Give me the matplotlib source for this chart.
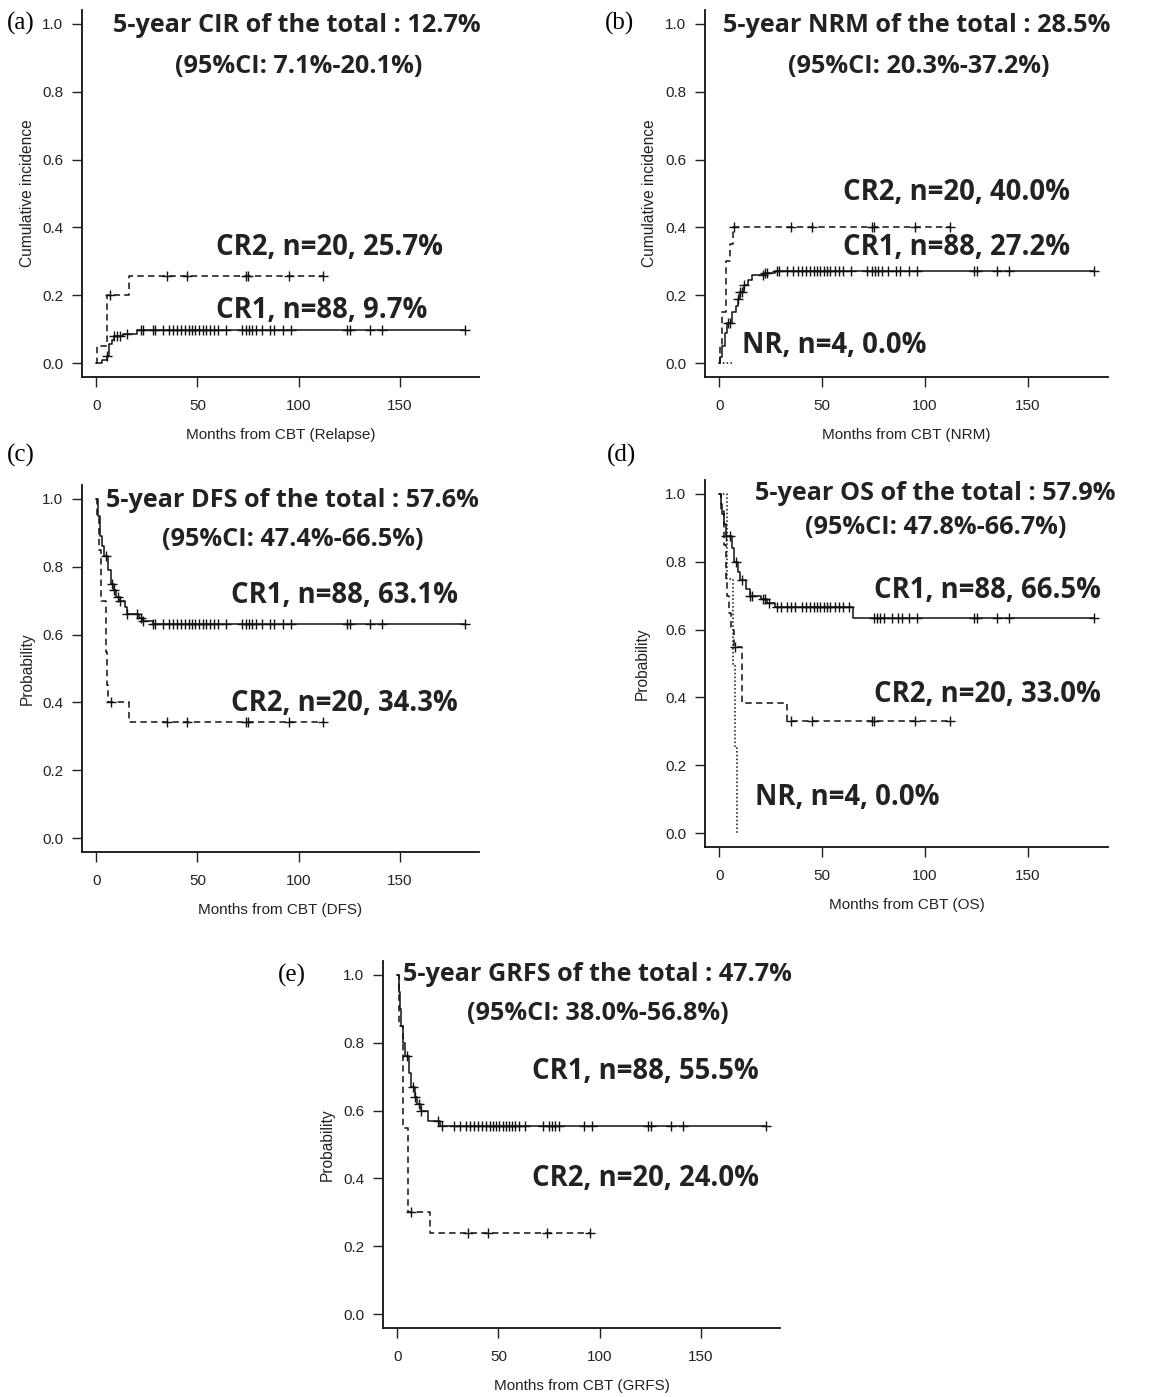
"""
cbt_outcomes.py - five KM / cumulative incidence panels (CIR, NRM, DFS, OS, GRFS)
"""
import numpy as np
import matplotlib
matplotlib.use("Agg")
import matplotlib.pyplot as plt

plt.rcParams['font.family'] = ['Liberation Sans', 'DejaVu Sans']

W, H = 1152, 1397

# ---- data ----
# long follow-up censor times shared by the CR1 group
cr1_late = [22, 23, 28, 29, 33, 36, 38, 40, 42, 44, 46, 47.5, 49, 51, 52.5,
            54, 56, 58, 60, 64, 72, 74, 75.5, 77, 79, 82, 86, 88, 92, 96,
            124, 125.5, 135, 141, 182]
cr2_late = [35, 45, 74, 75, 95, 112]

# (a) CIR
a_cr1_t = [0, 3, 5.5, 6.5, 8, 9, 13, 20]
a_cr1_s = [0, 0.011, 0.023, 0.057, 0.068, 0.08, 0.086, 0.097]
a_cr1_c = [5.5, 9, 10.5, 12, 15] + cr1_late
a_cr2_t = [0, 0.5, 5.4, 16.4]
a_cr2_s = [0, 0.05, 0.2, 0.257]
a_cr2_c = [7] + cr2_late

# (b) NRM
b_cr1_t = [0, 0.5, 1.5, 2.5, 3.5, 6, 8, 9, 10, 12, 14, 16, 22, 27]
b_cr1_s = [0, 0.02, 0.05, 0.09, 0.12, 0.15, 0.17, 0.19, 0.21, 0.23, 0.245, 0.26, 0.265, 0.272]
b_cr1_c = [4, 5, 9, 10, 11, 12, 21] + cr1_late
b_cr2_t = [0, 0.5, 1.5, 3, 5, 6.5]
b_cr2_s = [0, 0.05, 0.15, 0.3, 0.35, 0.4]
b_cr2_c = [7] + cr2_late
b_nr_t = [0, 7]
b_nr_s = [0, 0]

# (c) DFS
c_cr1_t = [0, 1, 2, 3, 4, 6, 7.5, 9, 10, 12, 14, 15, 21, 23, 28]
c_cr1_s = [1, 0.95, 0.89, 0.86, 0.83, 0.79, 0.75, 0.73, 0.71, 0.70, 0.68, 0.66, 0.65, 0.64, 0.631]
c_cr1_c = [5, 8, 9, 11, 12, 15, 20] + cr1_late
c_cr2_t = [0, 0.5, 1.5, 2.5, 5, 5.5, 6, 16]
c_cr2_s = [1, 0.95, 0.85, 0.70, 0.55, 0.45, 0.40, 0.343]
c_cr2_c = [7.5] + cr2_late

# (d) OS
d_cr1_t = [0, 1, 1.5, 2, 3, 6, 7, 9, 10, 13, 15, 20, 23, 27, 65]
d_cr1_s = [1, 0.97, 0.94, 0.91, 0.875, 0.84, 0.80, 0.77, 0.745, 0.72, 0.70, 0.69, 0.677, 0.665, 0.634]
d_cr1_c = [3, 5, 8, 11, 15, 16, 21, 22, 24, 28, 30, 33, 35, 37, 40, 42, 44, 46, 47.5,
           49, 51, 52.5, 54, 56, 58, 60, 63, 75, 76.5, 78, 80, 84, 87,
           89, 92, 96, 124, 125.5, 135, 141, 182]
d_cr2_t = [0, 1, 2, 3, 3.5, 4.5, 5.5, 7, 11, 33]
d_cr2_s = [1, 0.95, 0.85, 0.75, 0.70, 0.65, 0.60, 0.55, 0.385, 0.33]
d_cr2_c = [7.6] + cr2_late
d_nr_t = [0, 3.7, 6.5, 7.6, 8.4]
d_nr_s = [1, 0.75, 0.5, 0.25, 0.0]

# (e) GRFS
e_cr1_t = [0, 1, 1.5, 2, 3, 4, 6, 7, 9, 10, 12, 15, 21]
e_cr1_s = [1, 0.95, 0.9, 0.85, 0.8, 0.76, 0.71, 0.67, 0.64, 0.62, 0.60, 0.57, 0.555]
e_cr1_c = [5, 8, 9, 11, 12, 20, 22, 28, 31, 34, 36, 38, 40, 42, 44, 46, 47.5, 49,
           50.5, 52, 53.5, 55, 56.5, 58, 60, 63, 72, 75, 76.5, 78, 80, 92, 96,
           124, 125.5, 135, 141, 182]
e_cr2_t = [0, 1, 3, 5.3, 16]
e_cr2_s = [1, 0.85, 0.55, 0.30, 0.24]
e_cr2_c = [6.6, 35, 45, 74, 95]

titles = ["5-year CIR of the total : 12.7%", "5-year NRM of the total : 28.5%",
          "5-year DFS of the total : 57.6%", "5-year OS of the total : 57.9%",
          "5-year GRFS of the total : 47.7%"]
cis = ["(95%CI: 7.1%-20.1%)", "(95%CI: 20.3%-37.2%)", "(95%CI: 47.4%-66.5%)",
       "(95%CI: 47.8%-66.7%)", "(95%CI: 38.0%-56.8%)"]
xlabels = ["Months from CBT (Relapse)", "Months from CBT (NRM)", "Months from CBT (DFS)",
           "Months from CBT (OS)", "Months from CBT (GRFS)"]
ylabels = ["Cumulative incidence", "Cumulative incidence", "Probability",
           "Probability", "Probability"]
letters = ["(a)", "(b)", "(c)", "(d)", "(e)"]


def km(ax, t, s, cens, ls):
    t = np.asarray(t, float)
    s = np.asarray(s, float)
    end = max(cens) if len(cens) else t[-1]
    tt = np.append(t, end)
    ss = np.append(s, s[-1])
    line, = ax.step(tt, ss, where='post', color='#111111', lw=1.1)
    if ls == 'dash':
        line.set_dashes((4.2, 2.8))
    elif ls == 'dot':
        line.set_dashes((1, 1.5))
    if len(cens):
        idx = np.searchsorted(t, cens, side='right') - 1
        ax.plot(cens, s[idx], '+', color='#111111', ms=7.5, mew=1.0)


bold = dict(family=['Open Sans', 'DejaVu Sans'], fontweight='bold', fontsize=18.2,
            color='#222222')
label = dict(family=['Open Sans', 'DejaVu Sans'], fontweight='bold', fontsize=19.8,
             color='#222222')

fig = plt.figure(figsize=(W / 100, H / 100), dpi=100)

# left, bottom, width, height in pixels
boxes = [(82, 377, 397, 367), (705, 377, 403, 367), (82, 852, 397, 367),
         (705, 847, 403, 367), (383, 1328, 397, 367)]
ylab_x = [28, 650, 28, 643, 328]
letter_xy = [(21, 23), (620, 23), (21, 455), (622, 455), (292, 975)]

axes = []
for i, (l, b, w, h) in enumerate(boxes):
    ax = fig.add_axes([l / W, 1 - b / H, w / W, h / H])
    ax.set_xlim(-7, 189)
    ax.set_ylim(-0.04, 1.04)
    ax.spines['top'].set_visible(False)
    ax.spines['right'].set_visible(False)
    for sp in ('left', 'bottom'):
        ax.spines[sp].set_linewidth(1.3)
        ax.spines[sp].set_color('#111111')
    ax.set_xticks([0, 50, 100, 150])
    ax.set_yticks([0, 0.2, 0.4, 0.6, 0.8, 1.0])
    ax.set_yticklabels(['0.0', '0.2', '0.4', '0.6', '0.8', '1.0'])
    ax.tick_params(axis='both', direction='out', length=7.5, width=1.0,
                   labelsize=11, colors='#222222')
    ax.tick_params(axis='x', pad=8)
    ax.tick_params(axis='y', pad=6)
    ax.set_xlabel(xlabels[i], fontsize=11, color='#222222')
    ax.set_ylabel(ylabels[i], fontsize=11.2, color='#222222')
    ax.xaxis.set_label_coords(0.5, -51 / h)
    ax.yaxis.set_label_coords((ylab_x[i] + 7 - l) / w, 0.5)
    lx, ly = letter_xy[i]
    fig.text(lx / W, 1 - ly / H, letters[i], family=['Liberation Serif'],
             fontsize=18, ha='center', va='center')
    axes.append(ax)

ax_a, ax_b, ax_c, ax_d, ax_e = axes

km(ax_a, a_cr1_t, a_cr1_s, a_cr1_c, 'solid')
km(ax_a, a_cr2_t, a_cr2_s, a_cr2_c, 'dash')

km(ax_b, b_cr1_t, b_cr1_s, b_cr1_c, 'solid')
km(ax_b, b_cr2_t, b_cr2_s, b_cr2_c, 'dash')
km(ax_b, b_nr_t, b_nr_s, [], 'dot')

km(ax_c, c_cr1_t, c_cr1_s, c_cr1_c, 'solid')
km(ax_c, c_cr2_t, c_cr2_s, c_cr2_c, 'dash')

km(ax_d, d_cr1_t, d_cr1_s, d_cr1_c, 'solid')
km(ax_d, d_cr2_t, d_cr2_s, d_cr2_c, 'dash')
km(ax_d, d_nr_t, d_nr_s, [], 'dot')

km(ax_e, e_cr1_t, e_cr1_s, e_cr1_c, 'solid')
km(ax_e, e_cr2_t, e_cr2_s, e_cr2_c, 'dash')

# headline and confidence interval
head_pos = [((99, 0.994), (100, 0.875)), ((96, 0.994), (97, 0.875)),
            ((97, 0.994), (97, 0.88)), ((105, 1.0), (105, 0.9)),
            ((99, 1.0), (99, 0.885))]
for ax, t, c, (p1, p2) in zip(axes, titles, cis, head_pos):
    ax.text(p1[0], p1[1], t, ha='center', va='center', **bold)
    ax.text(p2[0], p2[1], c, ha='center', va='center', **bold)

# group labels
ax_a.text(59, 0.34, "CR2, n=20, 25.7%", ha='left', va='center', **label)
ax_a.text(59, 0.156, "CR1, n=88, 9.7%", ha='left', va='center', **label)
ax_b.text(60, 0.503, "CR2, n=20, 40.0%", ha='left', va='center', **label)
ax_b.text(60, 0.341, "CR1, n=88, 27.2%", ha='left', va='center', **label)
ax_b.text(11, 0.053, "NR, n=4, 0.0%", ha='left', va='center', **label)
ax_c.text(66.6, 0.714, "CR1, n=88, 63.1%", ha='left', va='center', **label)
ax_c.text(66.6, 0.398, "CR2, n=20, 34.3%", ha='left', va='center', **label)
ax_d.text(75, 0.714, "CR1, n=88, 66.5%", ha='left', va='center', **label)
ax_d.text(75, 0.41, "CR2, n=20, 33.0%", ha='left', va='center', **label)
ax_d.text(17.5, 0.106, "NR, n=4, 0.0%", ha='left', va='center', **label)
ax_e.text(66.4, 0.715, "CR1, n=88, 55.5%", ha='left', va='center', **label)
ax_e.text(66.4, 0.40, "CR2, n=20, 24.0%", ha='left', va='center', **label)

fig.savefig('out.png', dpi=100)
